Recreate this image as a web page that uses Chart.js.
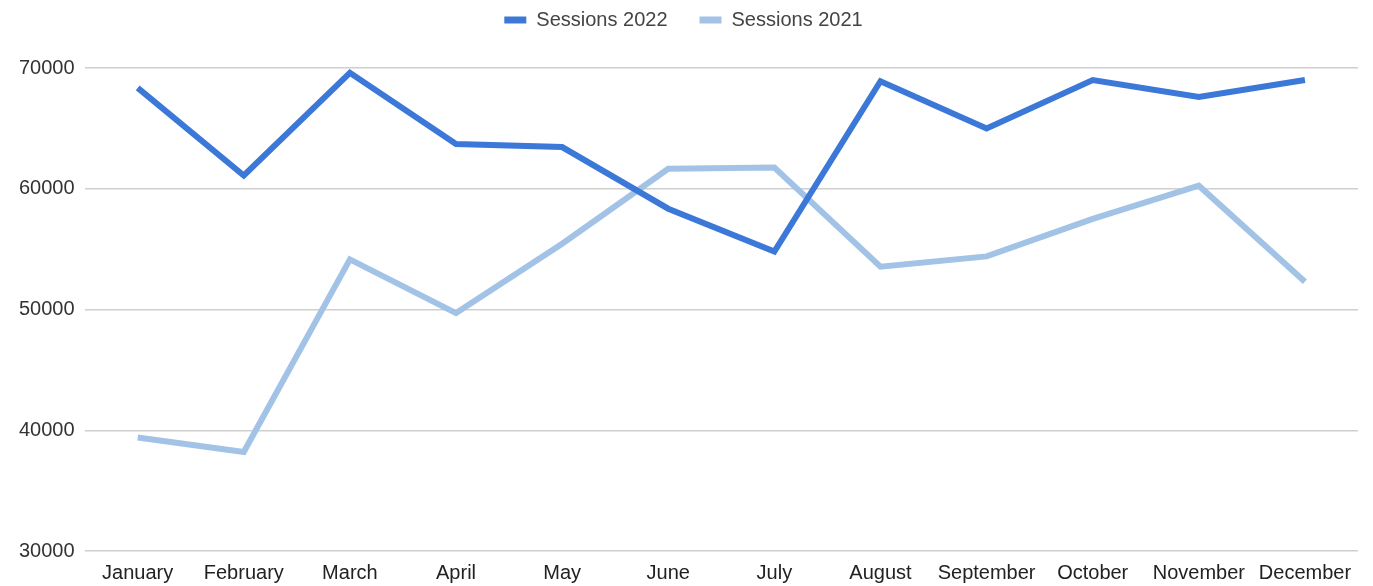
<!DOCTYPE html>
<html>
<head>
<meta charset="utf-8">
<script src="https://cdn.jsdelivr.net/npm/chart.js@4"></script>
<style>
  body { margin: 0; background: #fff; }
  #wrap { width: 1373px; height: 586px; }
</style>
</head>
<body>
<div id="wrap"><canvas id="sessions-chart" width="1373" height="586"></canvas></div>
<script>
// Months on the x axis
const months = ['January', 'February', 'March', 'April', 'May', 'June',
    'July', 'August', 'September', 'October', 'November', 'December'];

// Sessions per month
const sessions2022 = [68350, 61100, 69600, 63700, 63450, 58350, 54800, 68900, 65000, 69000, 67600, 69000];
const sessions2021 = [39400, 38200, 54150, 49700, 55450, 61650, 61750, 53550, 54400, 57500, 60250, 52300];

// y axis range and step
const yMin = 30000;
const yMax = 70000;
const yStep = 10000;

// push the plot down a bit under the legend
const legendMargin = {
    id: 'legendMargin',
    beforeInit(chart) {
        const fit = chart.legend.fit;
        chart.legend.fit = function () {
            fit.bind(chart.legend)();
            this.height += 28;
        };
    }
};

const ctx = document.getElementById('sessions-chart').getContext('2d');

const sessionsChart = new Chart(ctx, {
    type: 'line',
    data: {
        labels: months,
        datasets: [{
            label: 'Sessions 2022',
            data: sessions2022,
            borderColor: '#3c78d8',
            backgroundColor: '#3c78d8',
            borderWidth: 6,
            pointRadius: 0,
            tension: 0,
            fill: false
        }, {
            label: 'Sessions 2021',
            data: sessions2021,
            borderColor: '#a2c3e6',
            backgroundColor: '#a2c3e6',
            borderWidth: 6,
            pointRadius: 0,
            tension: 0,
            fill: false
        }]
    },
    options: {
        responsive: false,
        animation: false,
        layout: {
            padding: { left: 9, right: 15, top: -22, bottom: 0 }
        },
        plugins: {
            legend: {
                position: 'top',
                labels: {
                    font: { family: 'Liberation Sans, Arial, sans-serif', size: 20 },
                    color: '#444',
                    boxWidth: 22,
                    boxHeight: 7,
                    padding: 32,
                    generateLabels(chart) {
                        const items = Chart.defaults.plugins.legend.labels.generateLabels(chart);
                        items.forEach(i => { i.lineWidth = 0; });
                        return items;
                    }
                }
            },
            tooltip: { enabled: false }
        },
        scales: {
            x: {
                offset: true,
                grid: { display: false, drawTicks: false },
                border: { display: false },
                ticks: {
                    font: { family: 'Liberation Sans, Arial, sans-serif', size: 20 },
                    color: '#222',
                    padding: 10,
                    maxRotation: 0,
                    autoSkip: false
                },
                afterFit(scale) {
                    scale.height = 35;
                }
            },
            y: {
                min: yMin,
                max: yMax,
                grid: { color: '#cfcfcf', lineWidth: 1.5, drawTicks: false },
                border: { display: false },
                ticks: {
                    stepSize: yStep,
                    font: { family: 'Liberation Sans, Arial, sans-serif', size: 20 },
                    color: '#333',
                    padding: 10,
                    callback: v => String(v)
                }
            }
        }
    },
    plugins: [legendMargin]
});
</script>
</body>
</html>
